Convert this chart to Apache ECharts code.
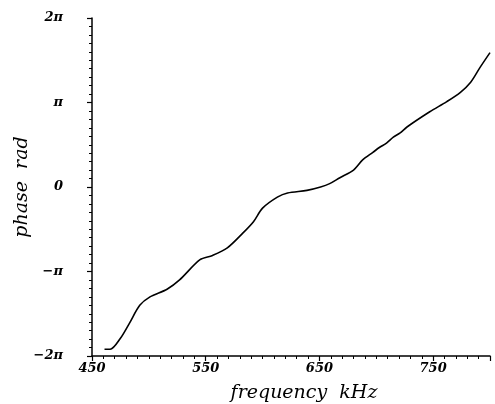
<!DOCTYPE html>
<html>
<head>
<meta charset="utf-8">
<script src="https://cdn.jsdelivr.net/npm/echarts@6/dist/echarts.min.js"></script>
<style>html,body{margin:0;padding:0;background:#fff}#c{width:495px;height:404px}</style>
</head>
<body>
<div id="c"></div>
<script>
// frequency in kHz
const freq = [461, 466, 475, 483, 492, 501, 516, 527, 545, 556, 569, 583, 592, 600, 613, 622, 639, 651, 659, 668, 680, 688, 697, 703, 709, 715, 721, 727, 747, 762, 774, 783, 791, 800];
// phase in units of pi radians
const phasePi = [-1.92, -1.92, -1.79, -1.61, -1.40, -1.30, -1.21, -1.10, -0.86, -0.81, -0.72, -0.54, -0.41, -0.25, -0.12, -0.07, -0.04, 0.0, 0.04, 0.11, 0.20, 0.32, 0.41, 0.47, 0.52, 0.59, 0.64, 0.71, 0.89, 1.01, 1.12, 1.24, 1.41, 1.59];
const xTickLabels = ['450', '550', '650', '750'];
const yTickLabels = {'-2': '\u22122π', '-1': '\u2212π', '0': '0', '1': 'π', '2': '2π'};

const X0 = 450; // axis origin (kHz)
const data = freq.map((f, i) => [f - X0, phasePi[i]]);

const tickFont = {fontFamily: 'DejaVu Serif', fontStyle: 'italic', fontWeight: 'bold', fontSize: 13, color: '#000'};
const nameFont = {fontFamily: 'DejaVu Serif', fontStyle: 'italic', fontSize: 19, color: '#000'};

const chart = echarts.init(document.getElementById('c'), null, {renderer: 'canvas'});
chart.setOption({
  backgroundColor: '#fff',
  animation: false,
  grid: {left: 92, right: 5, top: 18, bottom: 48, containLabel: false, outerBoundsMode: 'none'},
  xAxis: {
    type: 'value', min: 0, max: 350, interval: 100,
    name: 'frequency  kHz', nameLocation: 'middle', nameGap: 28, nameMoveOverlap: false,
    nameTextStyle: Object.assign({padding: [0, 0, 0, 26]}, nameFont),
    axisLine: {show: true, onZero: false, lineStyle: {color: '#000', width: 1.5}},
    axisTick: {show: true, inside: false, length: 5, lineStyle: {color: '#000', width: 1.2}},
    minorTick: {show: true, splitNumber: 10, length: 3, lineStyle: {color: '#000', width: 1}},
    splitLine: {show: false},
    axisLabel: Object.assign({
      margin: 6,
      formatter: v => { const s = String(v + X0); return xTickLabels.indexOf(s) >= 0 ? s : ''; }
    }, tickFont)
  },
  yAxis: {
    type: 'value', min: -2, max: 2, interval: 1,
    name: 'phase  rad', nameLocation: 'middle', nameGap: 60, nameRotate: 90, nameMoveOverlap: false,
    nameTextStyle: nameFont,
    axisLine: {show: true, onZero: false, lineStyle: {color: '#000', width: 1.5}},
    axisTick: {show: true, inside: false, length: 5, lineStyle: {color: '#000', width: 1.2}},
    minorTick: {show: true, splitNumber: 10, length: 3, lineStyle: {color: '#000', width: 1}},
    splitLine: {show: false},
    axisLabel: Object.assign({
      margin: 29,
      formatter: v => yTickLabels[String(v)] || ''
    }, tickFont)
  },
  series: [{
    type: 'line', data: data, showSymbol: false, smooth: 0.3,
    lineStyle: {color: '#000', width: 1.6}
  }]
});
</script>
</body>
</html>
